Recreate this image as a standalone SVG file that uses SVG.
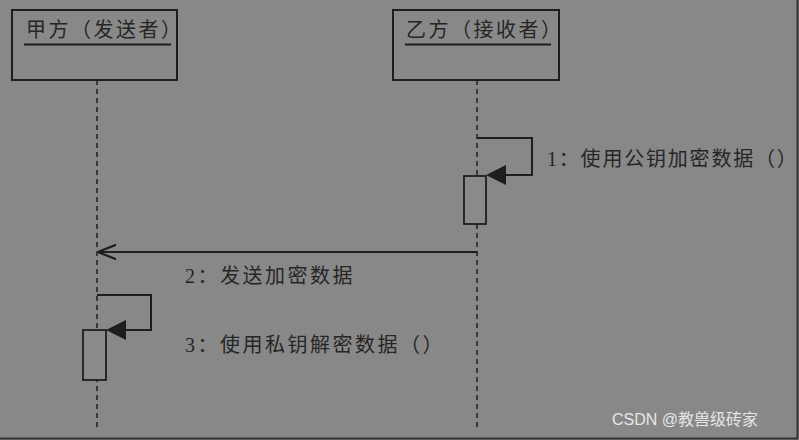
<svg xmlns="http://www.w3.org/2000/svg" width="799" height="440" viewBox="0 0 799 440">
<defs>
<style>
.box{fill:none;stroke:#1e1e1e;stroke-width:2}
.life{stroke:#1e1e1e;stroke-width:1.5;stroke-dasharray:5,4;fill:none}
.msg{stroke:#1e1e1e;stroke-width:2;fill:none}
.act{fill:#8a8a8a;stroke:#1e1e1e;stroke-width:1.8}
.t{font-family:"Liberation Serif","Noto Sans CJK SC",serif;font-size:20px;letter-spacing:2.5px;fill:#262626}
.wm{font-family:"Liberation Sans","Noto Sans CJK SC",sans-serif;font-size:16px;fill:#e6e6e6}
</style>
<marker id="filled" viewBox="0 0 10 10" refX="9" refY="5" markerWidth="20" markerHeight="20" markerUnits="userSpaceOnUse" orient="auto">
<path d="M0,0 L10,5 L0,10 z" fill="#1e1e1e"/>
</marker>
<marker id="open" viewBox="0 0 10 10" refX="10" refY="5" markerWidth="18" markerHeight="18" markerUnits="userSpaceOnUse" orient="auto">
<path d="M0,1 L10,5 L0,9" fill="none" stroke="#1e1e1e" stroke-width="1.2"/>
</marker>
</defs>
<rect width="799" height="440" fill="#888888"/>
<path d="M797.5,0 V438.5 H0" fill="none" stroke="#333" stroke-width="2"/>
<g id="sender">
<rect class="box" x="12" y="10" width="165" height="70"/>
<text class="t" x="26" y="37">甲方（发送者）</text>
<line x1="24" y1="44.5" x2="171" y2="44.5" stroke="#1e1e1e" stroke-width="2"/>
</g>
<g id="receiver">
<rect class="box" x="393" y="10" width="166" height="70"/>
<text class="t" x="406" y="37">乙方（接收者）</text>
<line x1="405" y1="44.5" x2="551" y2="44.5" stroke="#1e1e1e" stroke-width="2"/>
</g>
<g id="lifelines">
<line class="life" x1="97" y1="80" x2="97" y2="428"/>
<line class="life" x1="477" y1="80" x2="477" y2="428"/>
</g>
<g id="act1"><rect class="act" x="464" y="176" width="22" height="48"/></g>
<g id="act2"><rect class="act" x="83" y="330" width="23" height="50"/></g>
<g id="connectors">
<path class="msg" d="M477,138 H532 V175 H488" marker-end="url(#filled)"/>
<line class="msg" x1="477" y1="252" x2="98" y2="252" stroke-width="1.6" marker-end="url(#open)"/>
<path class="msg" d="M97,295 H151 V330 H108" marker-end="url(#filled)"/>
</g>
<g id="labels">
<text class="t" x="547" y="166" style="letter-spacing:1.8px">1：使用公钥加密数据（）</text>
<text class="t" x="185" y="283">2：发送加密数据</text>
<text class="t" x="185" y="352">3：使用私钥解密数据（）</text>
</g>
<text class="wm" x="612" y="425">CSDN @教兽级砖家</text>
</svg>
